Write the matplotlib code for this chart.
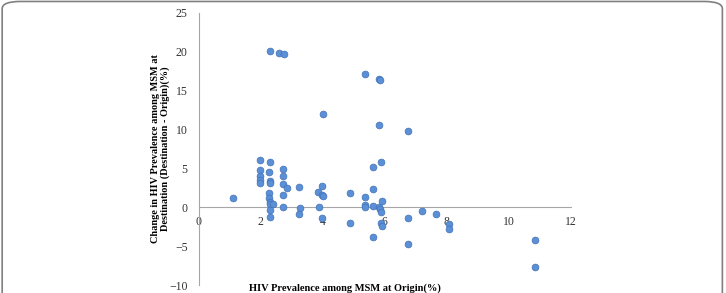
import matplotlib.pyplot as plt
from matplotlib.patches import FancyBboxPatch

# origin prevalence (%) and change at destination (%)
origin = [1.12, 1.96, 1.96, 1.96, 1.96, 1.96, 2.30, 2.30, 2.28, 2.30,
          2.25, 2.28, 2.30, 2.30, 2.41, 2.30, 2.30, 2.30, 2.60, 2.75,
          2.73, 2.73, 2.73, 2.84, 2.73, 2.73, 3.24, 3.27, 3.24, 3.86,
          3.88, 3.97, 3.99, 4.00, 3.99, 4.00, 4.88, 4.88, 5.36, 5.36,
          5.36, 5.36, 5.63, 5.63, 5.63, 5.63, 5.82, 5.85, 5.82, 5.88,
          5.90, 5.82, 5.85, 5.88, 5.88, 5.90, 6.74, 6.76, 6.73, 7.21,
          7.65, 8.07, 8.07, 10.85, 10.85]
change = [1.16, 6.10, 4.78, 3.95, 3.53, 3.05, 20.1, 5.77, 4.47, 3.40,
          1.81, 1.16, 0.73, 0.39, 0.39, -0.35, -1.21, 3.10, 19.85, 19.68,
          4.90, 4.04, 2.97, 2.53, 1.59, 0.08, 2.62, -0.05, -0.83, 1.89,
          0.08, 1.59, 2.75, 1.40, -1.34, 12.0, 1.85, -2.07, 1.37, 0.30,
          0.00, 17.1, 5.20, 2.36, 0.17, -3.84, 16.5, 16.4, 10.6, 5.80,
          0.81, 0.05, -0.26, -0.60, -1.99, -2.42, 9.77, -1.42, -4.78, -0.48,
          -0.90, -2.20, -2.76, -4.23, -7.67]

xticks = [0, 2, 4, 6, 8, 10, 12]
yticks = [-10, -5, 0, 5, 10, 15, 20, 25]

plt.rcParams['font.family'] = ['Liberation Serif', 'DejaVu Serif']

fig = plt.figure(figsize=(7.26, 2.93), dpi=100)
ax = fig.add_axes([0.2737, 0.0273, 0.5128, 0.9294])

ax.scatter(origin, change, s=24, color='#5b8fd6', edgecolor='#4272b8',
           linewidth=0.5, zorder=3)

ax.set_xlim(0, 12)
ax.set_ylim(-10, 25)
ax.set_xticks(xticks)
ax.set_yticks(yticks)
ax.tick_params(axis='both', length=0, labelsize=8.5, colors='#333333')
ax.tick_params(axis='x', pad=6)
ax.tick_params(axis='y', pad=8)

for s in ['top', 'right']:
    ax.spines[s].set_visible(False)
ax.spines['bottom'].set_position(('data', 0))
ax.spines['bottom'].set_color('#a6a6a6')
ax.spines['left'].set_color('#a6a6a6')

fig.text(0.221, 0.492, 'Change in HIV Prevalence among MSM at\nDestination (Destination - Origin)(%)',
         rotation=90, ha='center', va='center', fontsize=7.4, fontweight='bold',
         linespacing=1.05)
fig.text(0.475, 0.017, 'HIV Prevalence among MSM at Origin(%)', ha='center',
         va='center', fontsize=7.5, fontweight='bold')

# rounded frame round the figure
frame = FancyBboxPatch((0.003, -0.2), 0.992, 1.195, boxstyle='round,pad=0,rounding_size=0.025',
                       transform=fig.transFigure, fill=False, edgecolor='#808080',
                       linewidth=1.2)
fig.patches.append(frame)

fig.savefig('out.png', dpi=100)
